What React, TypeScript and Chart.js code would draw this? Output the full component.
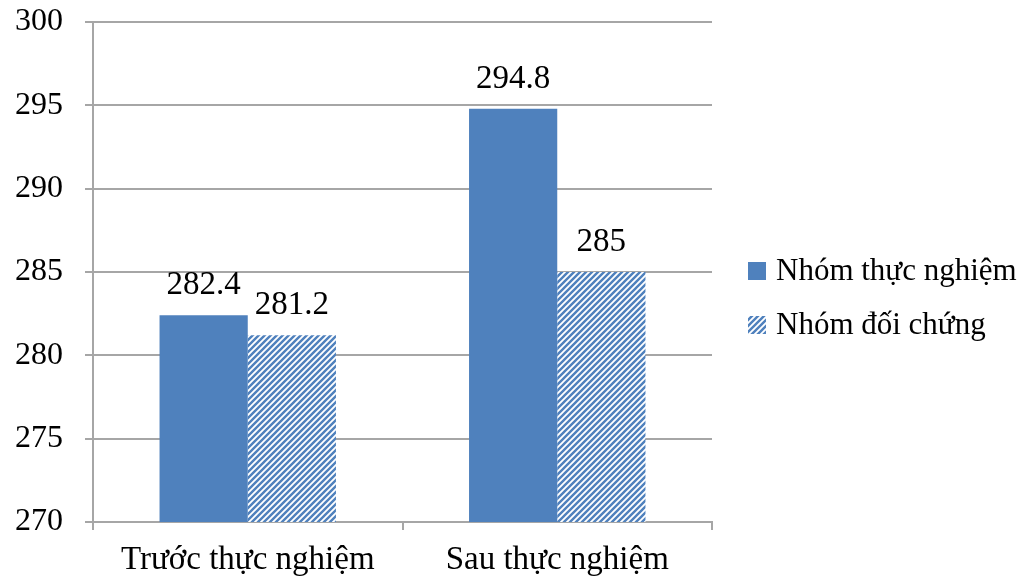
import React, { useEffect, useRef } from "react";
import { Chart, registerables } from "chart.js";

Chart.register(...registerables);

const categories = ["Trước thực nghiệm", "Sau thực nghiệm"];
const seriesNames = ["Nhóm thực nghiệm", "Nhóm đối chứng"];
const experimentalValues = [282.4, 294.8];
const controlValues = [281.2, 285];
const yTicks = [270, 275, 280, 285, 290, 295, 300];

const BLUE = "#4F81BD";
const FONT = "'Liberation Serif', 'Times New Roman', serif";

function makeHatch(): CanvasPattern | string {
  const c = document.createElement("canvas");
  const s = 6;
  c.width = s;
  c.height = s;
  const ctx = c.getContext("2d");
  if (!ctx) return BLUE;
  ctx.fillStyle = "#ffffff";
  ctx.fillRect(0, 0, s, s);
  ctx.strokeStyle = BLUE;
  ctx.lineWidth = 2.4;
  ctx.beginPath();
  ctx.moveTo(-s, s * 2);
  ctx.lineTo(s * 2, -s);
  ctx.moveTo(-s, s);
  ctx.lineTo(s, -s);
  ctx.moveTo(0, s * 2);
  ctx.lineTo(s * 2, 0);
  ctx.stroke();
  const p = ctx.createPattern(c, "repeat");
  return p || BLUE;
}

const valueLabels = {
  id: "valueLabels",
  afterDatasetsDraw(chart: any) {
    const ctx = chart.ctx;
    ctx.save();
    ctx.font = `33px ${FONT}`;
    ctx.fillStyle = "#000";
    ctx.textAlign = "center";
    ctx.textBaseline = "alphabetic";
    chart.data.datasets.forEach((ds: any, di: number) => {
      const meta = chart.getDatasetMeta(di);
      meta.data.forEach((bar: any, i: number) => {
        const v = ds.data[i];
        ctx.fillText(String(v), bar.x, bar.y - 21);
      });
    });
    ctx.restore();
  },
};

const sideLegend = {
  id: "sideLegend",
  afterDraw(chart: any) {
    const ctx = chart.ctx;
    const area = chart.chartArea;
    ctx.save();
    ctx.font = `31px ${FONT}`;
    ctx.textBaseline = "middle";
    ctx.textAlign = "left";
    const boxX = area.right + 36;
    const startY = 271;
    const step = 54;
    chart.data.datasets.forEach((ds: any, i: number) => {
      const cy = startY + i * step;
      ctx.fillStyle = ds.backgroundColor;
      ctx.fillRect(boxX, cy - 9, 18, 18);
      ctx.fillStyle = "#000";
      ctx.fillText(ds.label, boxX + 28, cy + 1);
    });
    ctx.restore();
  },
};

export default function App() {
  const ref = useRef<HTMLCanvasElement>(null);
  useEffect(() => {
    document.body.style.margin = "0";
    const hatch = makeHatch();
    const chart = new Chart(ref.current!, {
      type: "bar",
      data: {
        labels: categories,
        datasets: [
          {
            label: seriesNames[0],
            data: experimentalValues,
            backgroundColor: BLUE,
            borderWidth: 0,
          },
          {
            label: seriesNames[1],
            data: controlValues,
            backgroundColor: hatch as any,
            borderWidth: 0,
          },
        ],
      },
      options: {
        animation: false,
        responsive: false,
        maintainAspectRatio: false,
        layout: { padding: { top: 22, right: 311, bottom: 0, left: 13 } },
        datasets: {
          bar: { barPercentage: 1, categoryPercentage: 0.57 },
        },
        plugins: {
          legend: { display: false },
          tooltip: { enabled: false },
        },
        scales: {
          x: {
            afterFit: (axis: any) => {
              axis.height = 63;
              axis.paddingLeft = 0;
              axis.paddingRight = 0;
            },
            grid: {
              offset: true,
              drawOnChartArea: false,
              drawTicks: true,
              tickLength: 8,
              color: "#a6a6a6",
              lineWidth: 2,
            },
            border: { color: "#a6a6a6", width: 2 },
            ticks: {
              color: "#000",
              font: { family: FONT, size: 33 },
              padding: 11,
            },
          },
          y: {
            min: 270,
            max: 300,
            afterBuildTicks: (axis: any) => {
              axis.ticks = yTicks.map((v) => ({ value: v }));
            },
            afterFit: (axis: any) => {
              axis.width = 80;
              axis.paddingTop = 0;
              axis.paddingBottom = 0;
            },
            grid: {
              drawTicks: true,
              tickLength: 8,
              color: "#a6a6a6",
              lineWidth: 2,
            },
            border: { color: "#a6a6a6", width: 2 },
            ticks: {
              color: "#000",
              font: { family: FONT, size: 32 },
              padding: 22,
            },
          },
        },
      },
      plugins: [valueLabels, sideLegend],
    });
    return () => chart.destroy();
  }, []);
  return (
    <div style={{ position: "absolute", left: 0, top: 0, width: 1023, height: 585 }}>
      <canvas ref={ref} width={1023} height={585} />
    </div>
  );
}
